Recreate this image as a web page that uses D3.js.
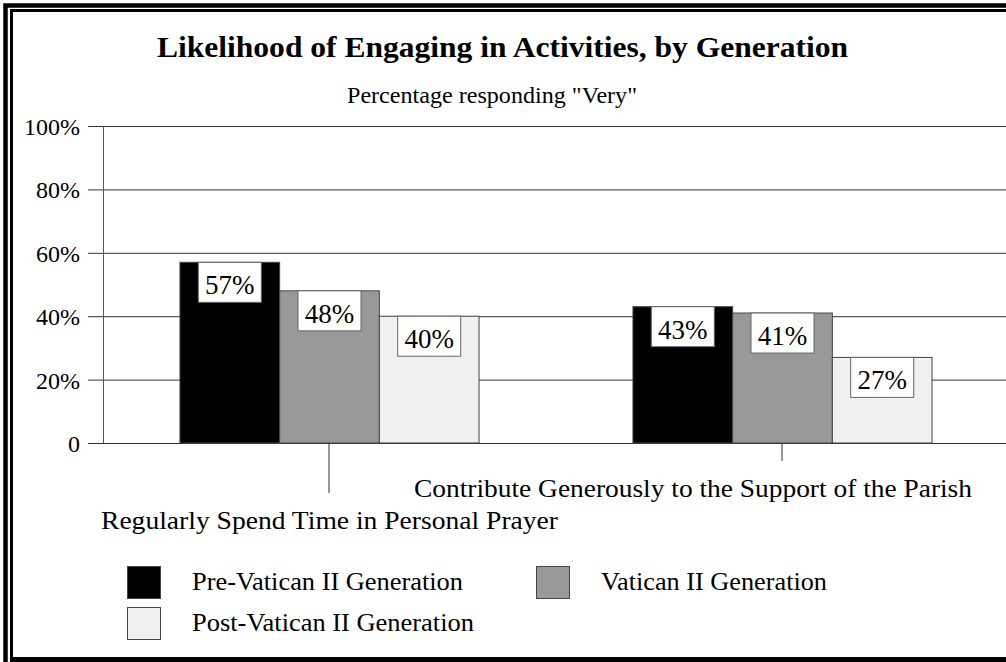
<!DOCTYPE html>
<html>
<head>
<meta charset="utf-8">
<script src="https://cdn.jsdelivr.net/npm/d3@7"></script>
<style>
  html, body { margin: 0; padding: 0; background: #fff; }
  text { font-family: 'Liberation Serif', 'Times New Roman', Times, 'DejaVu Serif', serif; }
</style>
</head>
<body>
<div id="chart"></div>
<script>
// ---- data ----
const categories = [
  "Regularly Spend Time in Personal Prayer",
  "Contribute Generously to the Support of the Parish"
];
const generations = [
  "Pre-Vatican II Generation",
  "Vatican II Generation",
  "Post-Vatican II Generation"
];
const preVatican = [57, 43];
const vaticanII = [48, 41];
const postVatican = [40, 27];
const yTicks = [0, 20, 40, 60, 80, 100];

const series = [preVatican, vaticanII, postVatican];
const colors = ["#000000", "#999999", "#f0f0f0"];
const serif = "'Liberation Serif', 'Times New Roman', Times, 'DejaVu Serif', serif";

const width = 1006;
const height = 662;

const svg = d3.select("#chart")
  .append("svg")
  .attr("width", width)
  .attr("height", height)
  .attr("font-family", serif)
  .style("display", "block");

// frame (double border, cut off at right)
const frame = svg.append("g").attr("fill", "none").attr("stroke", "#000");
frame.append("path").attr("stroke-width", 4.5).attr("d", "M5.5,662 V5.5 H1006");
frame.append("path").attr("stroke-width", 3).attr("d", "M11.5,658 V10.5 H1006");
frame.append("path").attr("stroke-width", 5).attr("d", "M10,659.5 H1006");

// title
svg.append("text")
  .attr("x", 157).attr("y", 57)
  .attr("font-size", 30).attr("font-weight", "bold")
  .attr("textLength", 691).attr("lengthAdjust", "spacingAndGlyphs")
  .text("Likelihood of Engaging in Activities, by Generation");

svg.append("text")
  .attr("x", 347).attr("y", 103)
  .attr("font-size", 24)
  .attr("textLength", 290).attr("lengthAdjust", "spacingAndGlyphs")
  .text("Percentage responding \"Very\"");

// scales
const y = d3.scaleLinear().domain([0, 100]).range([443, 126]);
const x0 = d3.scaleBand().domain(categories).range([103, 1009]).padding(0);
const x1 = d3.scaleBand().domain(d3.range(3)).range([0, x0.bandwidth()]).paddingOuter(0.772).paddingInner(0);

// gridlines + y labels
const grid = svg.append("g");
grid.selectAll("line")
  .data(yTicks)
  .join("line")
  .attr("x1", 88).attr("x2", width)
  .attr("y1", d => y(d) + 0.5).attr("y2", d => y(d) + 0.5)
  .attr("stroke", "#333").attr("stroke-width", 1);

grid.selectAll("text")
  .data(yTicks)
  .join("text")
  .attr("x", 80).attr("y", d => y(d) + 9)
  .attr("text-anchor", "end")
  .attr("font-size", 24)
  .text(d => d === 0 ? "0" : d + "%");

svg.append("line")
  .attr("x1", 103.5).attr("x2", 103.5)
  .attr("y1", y(100)).attr("y2", y(0))
  .attr("stroke", "#555");

// bars
const groups = svg.append("g")
  .selectAll("g")
  .data(categories)
  .join("g")
  .attr("transform", d => `translate(${x0(d)},0)`);

const bars = groups.selectAll("g")
  .data((d, i) => series.map((s, k) => ({ k, v: s[i] })))
  .join("g");

bars.append("rect")
  .attr("x", d => x1(d.k))
  .attr("y", d => y(d.v))
  .attr("width", x1.bandwidth())
  .attr("height", d => y(0) - y(d.v))
  .attr("fill", d => colors[d.k])
  .attr("stroke", "#444").attr("stroke-width", 1);

// value boxes
const boxW = 63, boxH = 40;
bars.append("rect")
  .attr("x", d => x1(d.k) + x1.bandwidth() / 2 - boxW / 2)
  .attr("y", d => y(d.v))
  .attr("width", boxW).attr("height", boxH)
  .attr("fill", "#fff")
  .attr("stroke", "#666").attr("stroke-width", 1);

bars.append("text")
  .attr("x", d => x1(d.k) + x1.bandwidth() / 2)
  .attr("y", d => y(d.v) + 32)
  .attr("text-anchor", "middle")
  .attr("font-size", 27)
  .text(d => d.v + "%");

// category ticks and labels (staggered)
const tickLen = [50, 18];
const labelY = [529, 497];
svg.append("g")
  .selectAll("line")
  .data(categories)
  .join("line")
  .attr("x1", d => x0(d) + x0.bandwidth() / 2 - 0.5)
  .attr("x2", d => x0(d) + x0.bandwidth() / 2 - 0.5)
  .attr("y1", y(0))
  .attr("y2", (d, i) => y(0) + tickLen[i])
  .attr("stroke", "#333");

const labelW = [457, 558];
svg.append("g")
  .selectAll("text")
  .data(categories)
  .join("text")
  .attr("x", (d, i) => Math.min(x0(d) + x0.bandwidth() / 2 - labelW[i] / 2, 972 - labelW[i]))
  .attr("y", (d, i) => labelY[i])
  .attr("font-size", 25)
  .attr("textLength", (d, i) => labelW[i])
  .attr("lengthAdjust", "spacingAndGlyphs")
  .text(d => d);

// legend
const legendPos = [
  { x: 127, y: 566, tw: 271 },
  { x: 536, y: 566, tw: 226 },
  { x: 127, y: 607, tw: 282 }
];
const legend = svg.append("g")
  .selectAll("g")
  .data(generations)
  .join("g")
  .attr("transform", (d, i) => `translate(${legendPos[i].x},${legendPos[i].y})`);

legend.append("rect")
  .attr("x", 0.5).attr("y", 0.5)
  .attr("width", 33).attr("height", 32)
  .attr("fill", (d, i) => colors[i])
  .attr("stroke", "#444");

legend.append("text")
  .attr("x", 65).attr("y", 24)
  .attr("font-size", 25)
  .attr("textLength", (d, i) => legendPos[i].tw)
  .attr("lengthAdjust", "spacingAndGlyphs")
  .text(d => d);
</script>
</body>
</html>
